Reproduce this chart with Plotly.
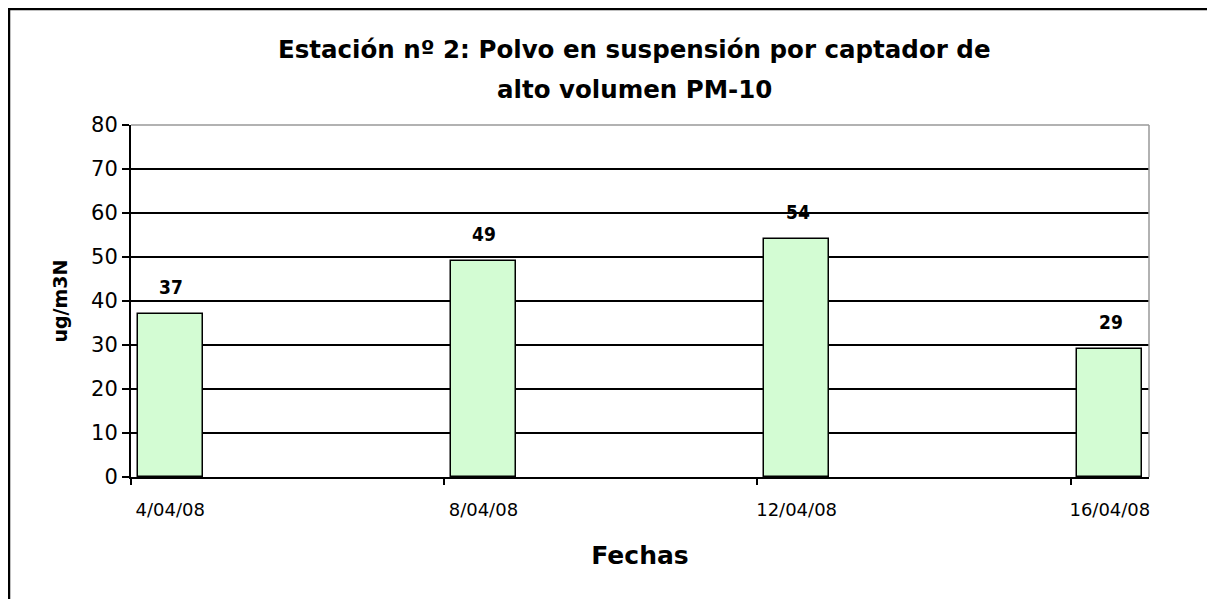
import plotly.graph_objects as go

# Data
fechas = ["2008-04-04", "2008-04-08", "2008-04-12", "2008-04-16"]
etiquetas = ["4/04/08", "8/04/08", "12/04/08", "16/04/08"]
valores = [37, 49, 54, 29]
y_ticks = [0, 10, 20, 30, 40, 50, 60, 70, 80]

titulo_1 = "Estación nº 2: Polvo en suspensión por captador de"
titulo_2 = "alto volumen PM-10"

DAY = 86400000
OFF = 8  # page body margin

fig = go.Figure()
fig.add_trace(go.Bar(
    x=fechas, y=valores,
    width=[0.83 * DAY] * len(valores),
    marker=dict(color="#D3FCD3", line=dict(color="black", width=1.5)),
    hoverinfo="x+y",
))

for f, v in zip(fechas, valores):
    fig.add_annotation(x=f, y=v, text=f"<b>{v}</b>", showarrow=False,
                       yshift=27, xshift=1,
                       font=dict(family="Liberation Sans Narrow, DejaVu Sans Condensed, Arial Narrow",
                                 size=19, color="black"))

W, H = 1215 - OFF, 599 - OFF
L, R, T, B = 131 - OFF, 1215 - 1149, 125 - OFF, 599 - 477
pw, ph = W - L - R, H - T - B


def px_x(sx):
    return (sx - OFF - L) / pw


def px_y(sy):
    return (H - B - (sy - OFF)) / ph


fig.update_layout(
    width=W, height=H,
    margin=dict(l=L, r=R, t=T, b=B),
    paper_bgcolor="white", plot_bgcolor="white",
    showlegend=False,
    bargap=0,
    xaxis=dict(
        type="date",
        range=["2008-04-03 12:00", "2008-04-16 12:00"],
        tickmode="array", tickvals=fechas, ticktext=etiquetas,
        ticks="", showgrid=False,
        showline=True, linecolor="black", linewidth=2,
        ticklabelstandoff=15,
        tickfont=dict(family="DejaVu Sans", size=18, color="black"),
        minor=dict(ticks="outside", ticklen=6, tickcolor="black", tickwidth=1.5,
                   tickmode="linear", tick0="2008-04-03 12:00", dtick=4 * DAY,
                   showgrid=False),
        title=dict(text="<b>Fechas</b>", standoff=28,
                   font=dict(family="DejaVu Sans", size=25, color="black")),
        fixedrange=True,
    ),
    yaxis=dict(
        range=[0, 80], tickmode="array", tickvals=y_ticks,
        ticks="outside", ticklen=7, tickcolor="black", tickwidth=1.5,
        showgrid=True, gridcolor="black", gridwidth=1.5,
        showline=True, linecolor="black", linewidth=2,
        zeroline=False,
        tickfont=dict(family="DejaVu Sans", size=21, color="black"),
        title=dict(text="<b>ug/m3N</b>", standoff=18,
                   font=dict(family="DejaVu Sans", size=19, color="black")),
        fixedrange=True,
    ),
    shapes=[
        # plot-area border (top and right, grey)
        dict(type="line", xref="x domain", yref="y domain", x0=0, x1=1, y0=1, y1=1,
             line=dict(color="#999999", width=1.5), layer="above"),
        dict(type="line", xref="x domain", yref="y domain", x0=1, x1=1, y0=0, y1=1,
             line=dict(color="#999999", width=1.5), layer="above"),
        # outer chart frame
        dict(type="rect", xref="paper", yref="paper",
             x0=px_x(9), x1=px_x(1209),
             y0=px_y(640), y1=px_y(9),
             line=dict(color="black", width=2.5), layer="above"),
    ],
    annotations=list(fig.layout.annotations) + [
        dict(text=f"<b>{titulo_1}</b>", xref="paper", yref="paper",
             x=px_x(634), y=px_y(49), showarrow=False,
             xanchor="center", yanchor="middle",
             font=dict(family="DejaVu Sans", size=24.5, color="black")),
        dict(text=f"<b>{titulo_2}</b>", xref="paper", yref="paper",
             x=px_x(634), y=px_y(89), showarrow=False,
             xanchor="center", yanchor="middle",
             font=dict(family="DejaVu Sans", size=24.5, color="black")),
    ],
)

fig.write_html("out.html")
